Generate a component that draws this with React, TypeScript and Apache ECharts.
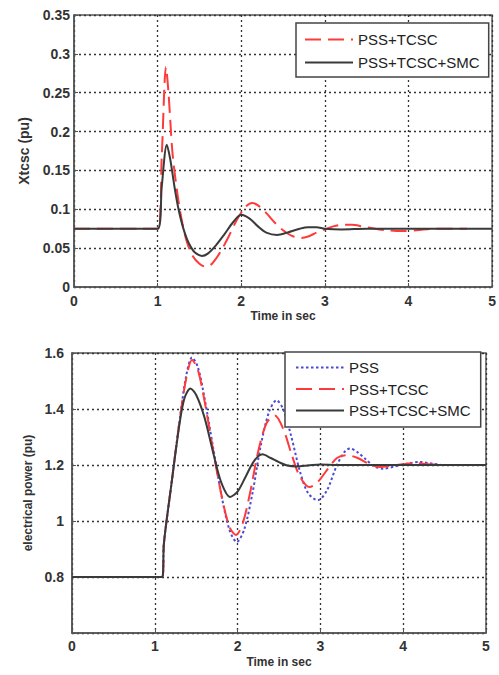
import React, { useEffect, useRef } from "react";
import * as echarts from "echarts";

// ---- Top chart: Xtcsc (pu) ----
const topTcscT = [0, 1.0, 1.05, 1.1, 1.13, 1.18, 1.25, 1.3, 1.35, 1.42, 1.5, 1.58, 1.65, 1.75, 1.85, 1.95, 2.05, 2.13, 2.2, 2.3, 2.4, 2.5, 2.6, 2.71, 2.8, 2.9, 3.0, 3.1, 3.2, 3.32, 3.45, 3.6, 3.75, 3.92, 4.1, 4.3, 4.7];
const topTcscV = [0.075, 0.075, 0.17, 0.283, 0.25, 0.17, 0.11, 0.08, 0.058, 0.04, 0.03, 0.026, 0.03, 0.045, 0.065, 0.087, 0.103, 0.108, 0.105, 0.095, 0.083, 0.073, 0.066, 0.063, 0.065, 0.07, 0.074, 0.078, 0.08, 0.08, 0.078, 0.075, 0.073, 0.072, 0.073, 0.075, 0.075];
const topSmcT = [0, 1.0, 1.05, 1.11, 1.15, 1.2, 1.25, 1.3, 1.35, 1.4, 1.45, 1.53, 1.6, 1.7, 1.8, 1.9, 2.0, 2.1, 2.2, 2.3, 2.43, 2.55, 2.7, 2.8, 2.9, 3.0, 3.2, 3.5, 4.0, 5.0];
const topSmcV = [0.075, 0.075, 0.13, 0.183, 0.165, 0.13, 0.1, 0.078, 0.062, 0.051, 0.044, 0.04, 0.043, 0.054, 0.068, 0.083, 0.093, 0.088, 0.078, 0.07, 0.067, 0.07, 0.075, 0.077, 0.077, 0.075, 0.074, 0.075, 0.075, 0.075];

// ---- Bottom chart: electrical power (pu) ----
const pssT = [0, 1.09, 1.11, 1.2, 1.3, 1.38, 1.45, 1.52, 1.6, 1.7, 1.8, 1.9, 1.99, 2.08, 2.18, 2.28, 2.38, 2.47, 2.55, 2.65, 2.75, 2.85, 2.97, 3.08, 3.2, 3.3, 3.36, 3.45, 3.55, 3.65, 3.76, 3.9, 4.05, 4.2, 4.35, 4.5, 4.72];
const pssV = [0.8, 0.8, 0.92, 1.13, 1.36, 1.52, 1.584, 1.55, 1.44, 1.27, 1.1, 0.97, 0.925, 0.97, 1.1, 1.27, 1.39, 1.431, 1.4, 1.3, 1.18, 1.1, 1.074, 1.11, 1.2, 1.25, 1.259, 1.245, 1.22, 1.195, 1.187, 1.195, 1.205, 1.211, 1.205, 1.2, 1.2];
const tcscT = [0, 1.09, 1.11, 1.2, 1.3, 1.38, 1.45, 1.52, 1.6, 1.7, 1.8, 1.9, 1.98, 2.06, 2.15, 2.25, 2.35, 2.45, 2.55, 2.65, 2.75, 2.87, 2.97, 3.1, 3.2, 3.32, 3.45, 3.58, 3.72, 3.85, 4.0, 4.15, 4.3, 4.5, 4.72];
const tcscV = [0.8, 0.8, 0.92, 1.13, 1.36, 1.51, 1.575, 1.54, 1.43, 1.26, 1.1, 0.98, 0.95, 0.99, 1.1, 1.25, 1.35, 1.377, 1.33, 1.24, 1.16, 1.121, 1.14, 1.19, 1.225, 1.235, 1.225, 1.205, 1.193, 1.197, 1.203, 1.207, 1.203, 1.2, 1.2];
const smcT = [0, 1.09, 1.11, 1.2, 1.3, 1.36, 1.43, 1.5, 1.6, 1.7, 1.8, 1.91, 2.0, 2.1, 2.2, 2.3, 2.4, 2.5, 2.6, 2.71, 2.85, 3.0, 3.2, 5.0];
const smcV = [0.8, 0.8, 0.92, 1.13, 1.35, 1.44, 1.473, 1.45, 1.37, 1.25, 1.14, 1.086, 1.105, 1.16, 1.215, 1.238, 1.225, 1.21, 1.198, 1.195, 1.198, 1.202, 1.2, 1.2];

const topLegend = ["PSS+TCSC", "PSS+TCSC+SMC"];
const bottomLegend = ["PSS", "PSS+TCSC", "PSS+TCSC+SMC"];
const xTitle = "Time in sec";
const topYTitle = "Xtcsc (pu)";
const bottomYTitle = "electrical power (pu)";

const zip = (t: number[], v: number[]) => t.map((x, i) => [x, v[i]]);

const FONT = "Liberation Sans, Arial, sans-serif";
const RED = "#ff3a3a";
const BLACK = "#3a3a3a";
const BLUE = "#4b4bd6";

export default function App() {
  const ref = useRef<HTMLDivElement>(null);
  useEffect(() => {
    if (!ref.current) return;
    const chart = echarts.init(ref.current, null, { renderer: "svg" });
    const splitLine = { show: true, lineStyle: { color: "#333", type: [2, 3] as any, width: 1.3 } };
    const axisLine = { show: true, lineStyle: { color: "#555", width: 1.5 } };
    const axisTick = { show: true, inside: true, length: 4, lineStyle: { color: "#555" } };
    const tickLabel = { fontSize: 14, fontWeight: "bold" as const, color: "#333", fontFamily: FONT };
    const nameStyle = { fontSize: 12, fontWeight: "bold" as const, color: "#333", fontFamily: FONT };
    const legendCommon = {
      orient: "vertical",
      itemWidth: 48, itemHeight: 2,
      backgroundColor: "#fff", borderColor: "#444", borderWidth: 1.5, borderRadius: 0,
      itemStyle: { opacity: 0 },
      textStyle: { fontSize: 15, color: "#222", fontFamily: FONT, lineHeight: 14 },
    };
    const option: any = {
      animation: false,
      backgroundColor: "#fff",
      grid: [
        { left: 74, right: 5, top: 15, bottom: 388, show: true, borderColor: "#555", borderWidth: 1.5 },
        { left: 72, right: 13, top: 353, bottom: 42, show: true, borderColor: "#555", borderWidth: 1.5 },
      ],
      xAxis: [
        {
          gridIndex: 0, type: "value", min: 0, max: 5, interval: 1,
          axisLine, axisTick, splitLine,
          axisLabel: { ...tickLabel, margin: 7 },
          name: xTitle, nameLocation: "middle", nameGap: 23, nameTextStyle: nameStyle,
        },
        {
          gridIndex: 1, type: "value", min: 0, max: 5, interval: 1,
          axisLine, axisTick, splitLine,
          axisLabel: { ...tickLabel, margin: 6 },
          name: xTitle, nameLocation: "middle", nameGap: 23, nameTextStyle: nameStyle,
        },
      ],
      yAxis: [
        {
          gridIndex: 0, type: "value", min: 0, max: 0.35, interval: 0.05,
          axisLine, axisTick, splitLine,
          axisLabel: { ...tickLabel, margin: 4, formatter: (v: number) => String(Math.round(v * 100) / 100) },
          name: topYTitle, nameLocation: "middle", nameGap: 43,
          nameTextStyle: { ...nameStyle, fontSize: 14 },
        },
        {
          gridIndex: 1, type: "value", min: 0.6, max: 1.6, interval: 0.2,
          axisLine, axisTick, splitLine,
          axisLabel: {
            ...tickLabel, margin: 8,
            formatter: (v: number) => (Math.abs(v - 0.6) < 1e-6 ? "" : String(Math.round(v * 10) / 10)),
          },
          name: bottomYTitle, nameLocation: "middle", nameGap: 36, nameTextStyle: nameStyle,
        },
      ],
      legend: [
        { ...legendCommon, data: topLegend, left: 296, top: 23, itemGap: 8, padding: [9, 9, 7, 8] },
        { ...legendCommon, data: bottomLegend, left: 285, top: 352, itemGap: 6.5, padding: [8, 10, 9, 10] },
      ],
      series: [
        {
          name: "PSS+TCSC", type: "line", xAxisIndex: 0, yAxisIndex: 0, data: zip(topTcscT, topTcscV),
          smooth: 0.3, symbol: "none", lineStyle: { color: RED, width: 2, type: [16, 7] }, itemStyle: { color: RED },
        },
        {
          name: "PSS+TCSC+SMC", type: "line", xAxisIndex: 0, yAxisIndex: 0, data: zip(topSmcT, topSmcV),
          smooth: 0.3, symbol: "none", lineStyle: { color: BLACK, width: 2 }, itemStyle: { color: BLACK },
        },
        {
          name: "PSS", type: "line", xAxisIndex: 1, yAxisIndex: 1, data: zip(pssT, pssV),
          smooth: 0.3, symbol: "none", lineStyle: { color: BLUE, width: 2, type: [2.5, 2.5] }, itemStyle: { color: BLUE },
        },
        {
          name: "PSS+TCSC", type: "line", xAxisIndex: 1, yAxisIndex: 1, data: zip(tcscT, tcscV),
          smooth: 0.3, symbol: "none", lineStyle: { color: RED, width: 2, type: [16, 7] }, itemStyle: { color: RED },
        },
        {
          name: "PSS+TCSC+SMC", type: "line", xAxisIndex: 1, yAxisIndex: 1, data: zip(smcT, smcV),
          smooth: 0.3, symbol: "none", lineStyle: { color: BLACK, width: 2 }, itemStyle: { color: BLACK },
        },
      ],
    };
    chart.setOption(option);
    return () => chart.dispose();
  }, []);
  return <div ref={ref} style={{ position: "fixed", left: 0, top: 0, width: 499, height: 675 }} />;
}
